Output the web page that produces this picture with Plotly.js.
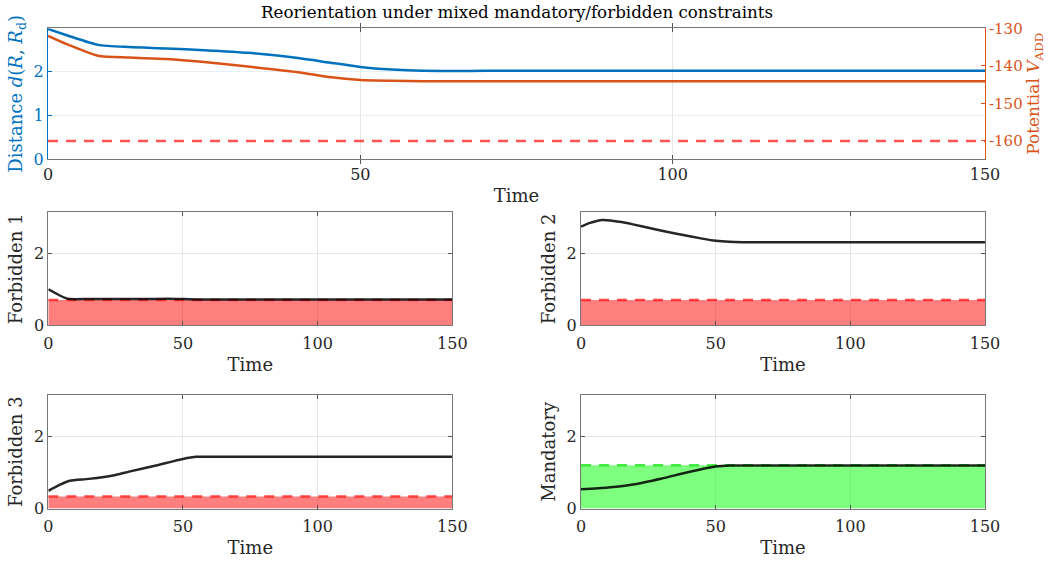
<!DOCTYPE html>
<html><head><meta charset="utf-8">
<script src="https://cdn.plot.ly/plotly-3.0.1.min.js"></script>
<style>html,body{margin:0;padding:0;background:#fff}#g{width:1051px;height:565px}</style>
</head><body><div id="g"></div>
<script>
// ---- data ----
const tTop = [0,3,8,13,19,25,32,40,45,50,55,60,70,80,100,120,150];
const distance = [2.96,2.82,2.60,2.55,2.52,2.48,2.42,2.30,2.20,2.10,2.04,2.01,2.01,2.01,2.01,2.01,2.01];
const potential = [-132.0,-134.2,-137.3,-137.8,-138.2,-139.0,-140.2,-141.7,-143.0,-143.8,-144.0,-144.1,-144.1,-144.1,-144.1,-144.1,-144.1];
const potentialLimit = -160;
const potTicks = [-160,-150,-140,-130];
const potTickText = ['-160','-150','-140','-130'];

const tF1 = [0,3,6,8,15,25,35,45,50,55,60,80,100,150];
const forbidden1 = [1.00,0.88,0.77,0.73,0.73,0.73,0.73,0.74,0.73,0.72,0.72,0.72,0.72,0.72];
const tF2 = [0,3,8,15,25,35,45,50,55,60,80,100,150];
const forbidden2 = [2.74,2.84,2.93,2.87,2.71,2.55,2.41,2.35,2.32,2.31,2.31,2.31,2.31];
const tF3 = [0,4,8,15,25,30,40,50,55,60,80,100,150];
const forbidden3 = [0.49,0.65,0.77,0.82,0.93,1.02,1.19,1.37,1.43,1.43,1.43,1.43,1.43];
const tM = [0,10,20,30,40,50,55,60,80,100,150];
const mandatory = [0.53,0.58,0.67,0.83,1.01,1.16,1.19,1.19,1.19,1.19,1.19];
const limits = {f1:0.70, f2:0.70, f3:0.33, m:1.20};
const tSpan = [0,150];
const xTicks = [0,50,100,150];

const FONT = 'DejaVu Serif, serif';
const BLUE = '#0072BD', ORANGE = '#D95319';
const W = 1051, H = 565;
const px = v => v / W, py = v => 1 - v / H;

const traces = [];
// top panel
traces.push({x:tTop, y:distance, xaxis:'x', yaxis:'y', mode:'lines', line:{color:BLUE, width:2.5, shape:'spline', smoothing:0.6}, hoverinfo:'skip'});
traces.push({x:tTop, y:potential, xaxis:'x', yaxis:'y2', mode:'lines', line:{color:ORANGE, width:2.5, shape:'spline', smoothing:0.6}, hoverinfo:'skip'});
traces.push({x:tSpan, y:[potentialLimit,potentialLimit], xaxis:'x', yaxis:'y2', mode:'lines', line:{color:'rgba(255,40,40,0.8)', width:2.5, dash:'10px,8px'}, hoverinfo:'skip'});

function panel(xa, ya, t, vals, lim, fillCol, dashCol) {
  traces.push({x:tSpan, y:[lim,lim], xaxis:xa, yaxis:ya, mode:'lines', fill:'tozeroy', fillcolor:fillCol, line:{width:0}, hoverinfo:'skip'});
  traces.push({x:tSpan, y:[lim,lim], xaxis:xa, yaxis:ya, mode:'lines', line:{color:dashCol, width:2.5, dash:'10px,8px'}, hoverinfo:'skip'});
  traces.push({x:t, y:vals, xaxis:xa, yaxis:ya, mode:'lines', line:{color:'rgba(0,0,0,0.85)', width:2.5, shape:'spline', smoothing:0.6}, hoverinfo:'skip'});
}
panel('x2','y3', tF1, forbidden1, limits.f1, 'rgba(255,0,0,0.5)', 'rgba(255,40,40,0.85)');
panel('x3','y4', tF2, forbidden2, limits.f2, 'rgba(255,0,0,0.5)', 'rgba(255,40,40,0.85)');
panel('x4','y5', tF3, forbidden3, limits.f3, 'rgba(255,0,0,0.5)', 'rgba(255,40,40,0.85)');
panel('x5','y6', tM, mandatory, limits.m, 'rgba(0,255,0,0.5)', 'rgba(40,230,40,0.85)');

const tickFont = {family:FONT, size:16, color:'#262626'};
const titleFont = {family:FONT, size:18, color:'#262626'};
function xax(dom, anchor) {
  return {domain:dom, anchor:anchor, range:[0,150], tickvals:xTicks, ticks:'inside', ticklen:4, tickcolor:'#555',
    showline:true, linecolor:'#777', linewidth:1, mirror:'allticks', showgrid:true, gridcolor:'#e6e6e6', gridwidth:1,
    zeroline:false, tickfont:tickFont, ticklabelstandoff:3, title:{text:'Time', font:titleFont, standoff:6}};
}
function yax(dom, anchor, label) {
  return {domain:dom, anchor:anchor, range:[0,Math.PI], tickvals:[0,2], ticks:'inside', ticklen:4, tickcolor:'#555',
    showline:true, linecolor:'#777', linewidth:1, mirror:'allticks', showgrid:true, gridcolor:'#e6e6e6',
    zeroline:false, tickfont:tickFont, title:{text:label, font:titleFont, standoff:6}};
}
const xL = [px(48.3), px(452.3)], xR = [px(581), px(985)];
const yRow2 = [py(325.3), py(212.3)], yRow3 = [py(508.5), py(395)];

const layout = {
  width:W, height:H, margin:{l:0,r:0,t:0,b:0}, paper_bgcolor:'#fff', plot_bgcolor:'#fff', showlegend:false,
  title:{text:'Reorientation under mixed mandatory/forbidden constraints', font:{family:FONT, size:16.7, color:'#000'}, x:0.492, xanchor:'center', y:0.978, yanchor:'middle'},
  xaxis:{domain:[px(48), px(985)], anchor:'y', range:[0,150], tickvals:xTicks, ticks:'inside', ticklen:4, tickcolor:'#555',
    showline:true, linecolor:'#777', linewidth:1, mirror:'allticks', showgrid:true, gridcolor:'#e6e6e6', zeroline:false,
    tickfont:tickFont, ticklabelstandoff:0, title:{text:'Time', font:titleFont, standoff:6}},
  yaxis:{domain:[py(159.3), py(28.3)], anchor:'x', range:[0,2.977], tickvals:[0,1,2], ticks:'inside', ticklen:4, tickcolor:BLUE,
    showline:true, linecolor:BLUE, linewidth:1, showgrid:true, gridcolor:'#e6eef6', zeroline:false,
    tickfont:{family:FONT, size:16, color:BLUE},
    title:{text:'Distance <i>d</i>(<i>R</i>, <i>R</i><sub>d</sub>)', font:{family:FONT, size:18, color:BLUE}, standoff:6}},
  yaxis2:{overlaying:'y', side:'right', anchor:'x', range:[-164.9,-130], tickvals:potTicks, ticktext:potTickText, ticks:'inside', ticklen:4, tickcolor:ORANGE,
    showline:true, linecolor:ORANGE, linewidth:1, showgrid:false, zeroline:false,
    tickfont:{family:FONT, size:15, color:ORANGE},
    title:{text:'Potential <i>V</i><sub>ADD</sub>', font:{family:FONT, size:17, color:ORANGE}, standoff:5}},
  xaxis2:xax(xL,'y3'), yaxis3:yax(yRow2,'x2','Forbidden 1'),
  xaxis3:xax(xR,'y4'), yaxis4:yax(yRow2,'x3','Forbidden 2'),
  xaxis4:xax(xL,'y5'), yaxis5:yax(yRow3,'x4','Forbidden 3'),
  xaxis5:xax(xR,'y6'), yaxis6:yax(yRow3,'x5','Mandatory')
};
Plotly.newPlot('g', traces, layout, {displayModeBar:false, staticPlot:true});
</script></body></html>
